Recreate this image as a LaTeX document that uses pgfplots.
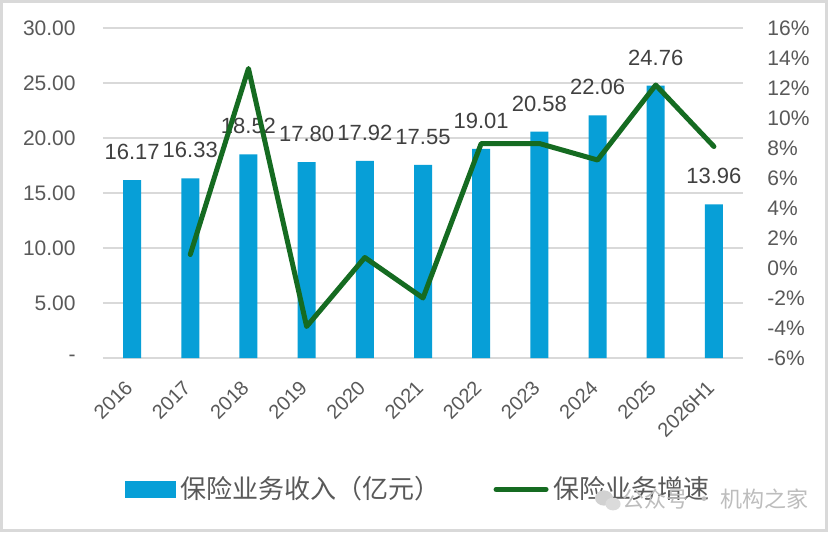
\documentclass[border=0pt]{standalone}
\usepackage{pgfplots}
\pgfplotsset{compat=1.18}
\usepackage{fontspec}
\setmainfont{Liberation Sans}
\newfontfamily\cjk{Noto Sans CJK SC}
\definecolor{barblue}{HTML}{079FD7}
\definecolor{lgreen}{HTML}{156B21}
\definecolor{ticktxt}{HTML}{595959}
\definecolor{lbltxt}{HTML}{404040}
\definecolor{gridc}{HTML}{D9D9D9}
\definecolor{wm}{HTML}{BDBDBD}
\begin{document}
\begin{tikzpicture}
\useasboundingbox (0,0) rectangle (414pt,266pt);
\fill[white] (0,0) rectangle (414pt,266pt);
\draw[gridc, line width=1.5pt] (0.75pt,0.75pt) rectangle (413.25pt,265.25pt);
\begin{axis}[
  at={(51.5pt,87pt)}, anchor=south west,
  scale only axis, width=320pt, height=165pt,
  xmin=-0.5, xmax=10.5, ymin=0, ymax=30,
  /pgf/number format/assume math mode=true,
  axis line style={draw=none},
  major tick length=0pt,
  xtick={0,1,2,3,4,5,6,7,8,9,10},
  xticklabels={2016,2017,2018,2019,2020,2021,2022,2023,2024,2025,2026H1},
  xticklabel style={xshift=-1.5pt, yshift=-13pt, rotate=45, anchor=east, inner sep=0pt,
    font=\fontsize{10pt}{12pt}\selectfont, text=ticktxt},
  ytick={0,5,10,15,20,25,30},
  yticklabels={-\hspace{4pt},5.00,10.00,15.00,20.00,25.00,30.00},
  yticklabel style={anchor=east, inner sep=0pt, xshift=-13.5pt,
    font=\fontsize{10.5pt}{12pt}\selectfont, text=ticktxt},
  ymajorgrids, grid style={gridc, line width=0.8pt},
  clip=false,
]
\addplot[ybar, bar width=9pt, fill=barblue, draw=none,
  nodes near coords={\pgfmathprintnumber[fixed,fixed zerofill,precision=2]{\pgfplotspointmeta}},
  nodes near coords style={anchor=south, inner sep=0pt, yshift=10pt,
    font=\fontsize{11pt}{13pt}\selectfont, text=lbltxt}]
coordinates {(0,16.17) (1,16.33) (2,18.52) (3,17.80) (4,17.92) (5,17.55) (6,19.01) (7,20.58) (8,22.06) (9,24.76) (10,13.96)};
\end{axis}
\begin{axis}[
  at={(51.5pt,87pt)}, anchor=south west,
  scale only axis, width=320pt, height=165pt,
  xmin=-0.5, xmax=10.5, ymin=-6, ymax=16,
  /pgf/number format/assume math mode=true,
  axis line style={draw=none},
  major tick length=0pt,
  hide x axis,
  ytick pos=right, yticklabel pos=right,
  ytick={-6,-4,-2,0,2,4,6,8,10,12,14,16},
  yticklabels={-6\%,-4\%,-2\%,0\%,2\%,4\%,6\%,8\%,10\%,12\%,14\%,16\%},
  yticklabel style={anchor=west, inner sep=0pt, xshift=12pt,
    font=\fontsize{10.5pt}{12pt}\selectfont, text=ticktxt},
  clip=false,
  legend columns=2,
  legend style={at={(0.494,-0.398)}, anchor=center, draw=none, fill=none,
    font=\cjk\fontsize{13pt}{15pt}\selectfont, text=ticktxt,
    /tikz/every odd column/.append style={column sep=0.5pt},
    /tikz/every even column/.append style={column sep=24.5pt}},
  legend cell align=left,
]
\addlegendimage{legend image code/.code={\fill[barblue] (0pt,-4pt) rectangle (25pt,4pt);}}
\addlegendentry{保险业务收入（亿元）}
\addplot[lgreen, line width=2.5pt, line join=round, line cap=round,
  legend image code/.code={\draw[lgreen,line width=2.5pt,line cap=round] (1.25pt,0pt) -- (26.25pt,0pt);}]
coordinates {(1,0.9) (2,13.3) (3,-3.9) (4,0.7) (5,-2.0) (6,8.3) (7,8.3) (8,7.2) (9,12.2) (10,8.1)};
\addlegendentry{保险业务增速}
\end{axis}
\fill[wm!70] (302pt,17pt) ellipse (4.5pt and 3.8pt);
\fill[wm!55] (306.5pt,14pt) ellipse (3.8pt and 3.2pt);
\node[anchor=west, inner sep=0pt, text=wm, font=\cjk\fontsize{11pt}{13pt}\selectfont] at (311pt,16.5pt) {公众号 · 机构之家};
\end{tikzpicture}
\end{document}
